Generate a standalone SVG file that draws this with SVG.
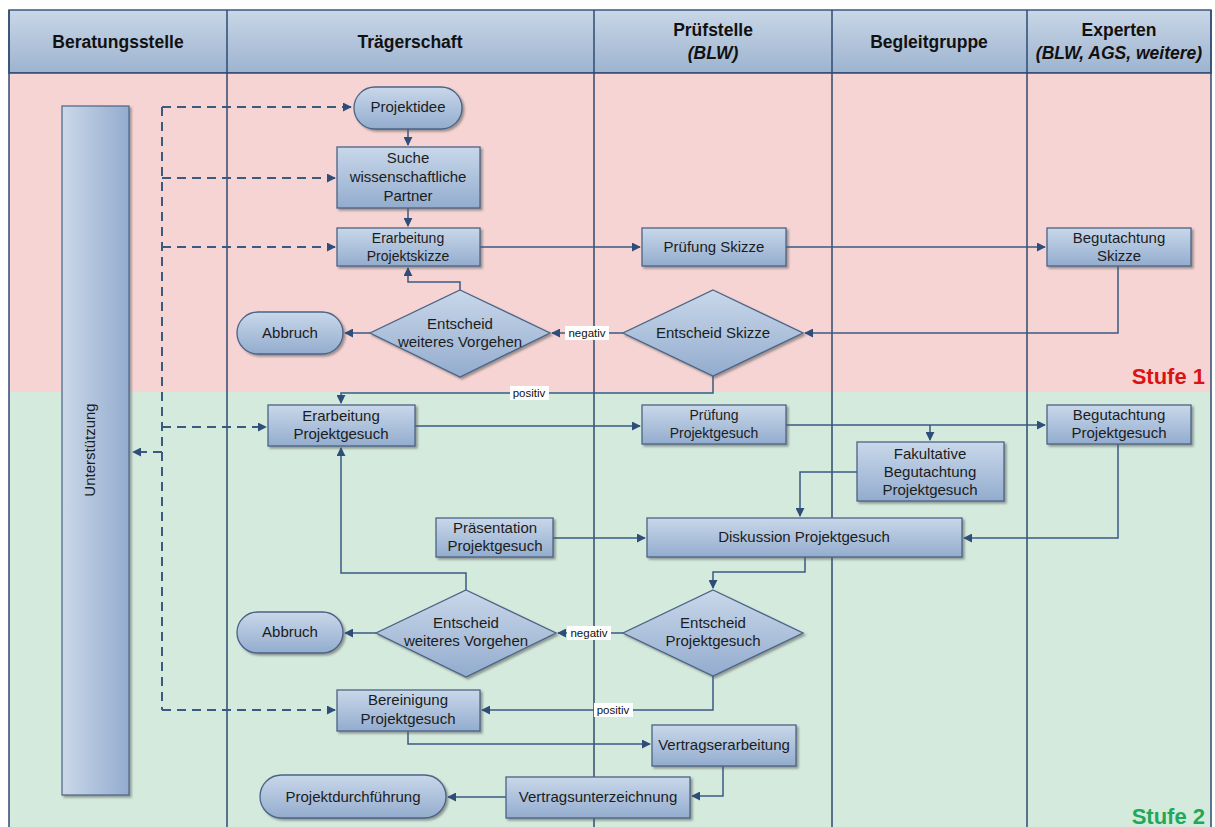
<svg xmlns="http://www.w3.org/2000/svg" width="1215" height="827" viewBox="0 0 1215 827">
<defs>
<linearGradient id="hdr" x1="0" y1="0" x2="0" y2="1"><stop offset="0" stop-color="#c9d7e7"/><stop offset="1" stop-color="#9db3cf"/></linearGradient>
<linearGradient id="box" x1="0" y1="0" x2="0" y2="1"><stop offset="0" stop-color="#c9d8ea"/><stop offset="1" stop-color="#93acce"/></linearGradient>
<linearGradient id="bar" x1="0" y1="0" x2="1" y2="0"><stop offset="0" stop-color="#cbd8e8"/><stop offset="1" stop-color="#93accf"/></linearGradient>
<filter id="sh" x="-10%" y="-10%" width="130%" height="140%"><feDropShadow dx="2" dy="2" stdDeviation="1.2" flood-color="#555" flood-opacity="0.55"/></filter>
<marker id="ar" viewBox="0 0 10 10" refX="9" refY="5" markerWidth="9" markerHeight="9" markerUnits="userSpaceOnUse" orient="auto"><path d="M0,0 L10,5 L0,10 z" fill="#2e4d78"/></marker>
<style>
.n{fill:url(#box);stroke:#4a6486;stroke-width:1.3;filter:url(#sh)}
.t{font-family:"Liberation Sans",Arial,sans-serif;font-size:15px;fill:#1c1c1c;text-anchor:middle}
.ts{font-family:"Liberation Sans",Arial,sans-serif;font-size:14px;fill:#1c1c1c;text-anchor:middle}
.h{font-family:"Liberation Sans",Arial,sans-serif;font-size:17.5px;font-weight:bold;fill:#111;text-anchor:middle}
.c{fill:none;stroke:#3a5a82;stroke-width:1.5}
.d{fill:none;stroke:#3a5a82;stroke-width:2;stroke-dasharray:9,6}
.lane{stroke:#2f4a70;stroke-width:1.5}
.lbl{font-family:"Liberation Sans",Arial,sans-serif;font-size:11.5px;fill:#111;text-anchor:middle}
</style>
</defs>
<rect width="1215" height="827" fill="#ffffff"/>
<g id="lanes">
<rect x="9" y="10" width="1202" height="63" fill="url(#hdr)" stroke="#3c5a80" stroke-width="1.5"/>
<rect x="9" y="73" width="1202" height="319" fill="#f5d4d3"/>
<rect x="9" y="392" width="1202" height="435" fill="#d4eadd"/>
<line class="lane" x1="9" y1="10" x2="9" y2="827"/>
<line class="lane" x1="1211" y1="10" x2="1211" y2="827"/>
<line class="lane" x1="227" y1="10" x2="227" y2="827"/>
<line class="lane" x1="594" y1="10" x2="594" y2="827"/>
<line class="lane" x1="832" y1="10" x2="832" y2="827"/>
<line class="lane" x1="1027" y1="10" x2="1027" y2="827"/>
<line class="lane" x1="9" y1="73" x2="1211" y2="73"/>
<text class="h" x="118" y="48">Beratungsstelle</text>
<text class="h" x="410" y="48">Trägerschaft</text>
<text class="h" x="713" y="36">Prüfstelle</text>
<text class="h" x="713" y="59" font-style="italic">(BLW)</text>
<text class="h" x="929" y="48">Begleitgruppe</text>
<text class="h" x="1119" y="36">Experten</text>
<text class="h" x="1119" y="59" font-style="italic">(BLW, AGS, weitere)</text>
<text x="1205" y="384" font-family="Liberation Sans,Arial,sans-serif" font-size="22" font-weight="bold" fill="#d81414" text-anchor="end">Stufe 1</text>
<text x="1205" y="824" font-family="Liberation Sans,Arial,sans-serif" font-size="22" font-weight="bold" fill="#1fa85a" text-anchor="end">Stufe 2</text>
</g>
<g id="connectors">
<path class="d" d="M162,107 V710"/>
<path class="d" d="M162,107 H351" marker-end="url(#ar)"/>
<path class="d" d="M162,178 H335" marker-end="url(#ar)"/>
<path class="d" d="M162,247 H335" marker-end="url(#ar)"/>
<path class="d" d="M162,427 H266" marker-end="url(#ar)"/>
<path class="d" d="M162,710 H335" marker-end="url(#ar)"/>
<path class="d" d="M162,452 H133" marker-end="url(#ar)"/>
<path class="c" d="M408,129 V145" marker-end="url(#ar)"/>
<path class="c" d="M408,208 V226" marker-end="url(#ar)"/>
<path class="c" d="M480,247 H640" marker-end="url(#ar)"/>
<path class="c" d="M786,247 H1045" marker-end="url(#ar)"/>
<path class="c" d="M1118,266 V333 H805" marker-end="url(#ar)"/>
<path class="c" d="M623,333 H552" marker-end="url(#ar)"/>
<path class="c" d="M370,333 H345" marker-end="url(#ar)"/>
<path class="c" d="M460,290 V282 H408 V268" marker-end="url(#ar)"/>
<path class="c" d="M713,376 V393 H341 V403" marker-end="url(#ar)"/>
<path class="c" d="M415,426 H640" marker-end="url(#ar)"/>
<path class="c" d="M786,425 H1045" marker-end="url(#ar)"/>
<path class="c" d="M930,425 V440" marker-end="url(#ar)"/>
<path class="c" d="M857,472 H800 V516" marker-end="url(#ar)"/>
<path class="c" d="M1118,444 V538 H964" marker-end="url(#ar)"/>
<path class="c" d="M553,538 H645" marker-end="url(#ar)"/>
<path class="c" d="M805,557 V572 H713 V588" marker-end="url(#ar)"/>
<path class="c" d="M623,633 H558" marker-end="url(#ar)"/>
<path class="c" d="M376,633 H345" marker-end="url(#ar)"/>
<path class="c" d="M466,590 V573 H341 V448" marker-end="url(#ar)"/>
<path class="c" d="M713,676 V710 H482" marker-end="url(#ar)"/>
<path class="c" d="M408,731 V744 H650" marker-end="url(#ar)"/>
<path class="c" d="M723,766 V796 H692" marker-end="url(#ar)"/>
<path class="c" d="M506,797 H448" marker-end="url(#ar)"/>
<rect x="565" y="326" width="44" height="14" fill="#fff"/>
<text class="lbl" x="587" y="337">negativ</text>
<rect x="510" y="386" width="39" height="14" fill="#fff"/>
<text class="lbl" x="529" y="397">positiv</text>
<rect x="567" y="626" width="44" height="14" fill="#fff"/>
<text class="lbl" x="589" y="637">negativ</text>
<rect x="594" y="703" width="39" height="14" fill="#fff"/>
<text class="lbl" x="613" y="714">positiv</text>
</g>
<g id="unterstuetzung">
<rect x="62" y="106" width="67" height="689" fill="url(#bar)" stroke="#4a6486" stroke-width="1.2" filter="url(#sh)"/>
<text class="t" transform="translate(95,450) rotate(-90)" font-size="14">Unterstützung</text>
</g>
<g id="projektidee"><rect class="n" x="354" y="87" width="108" height="42" rx="21"/><text class="t" x="408" y="112">Projektidee</text></g>
<g id="suche"><rect class="n" x="337" y="147" width="143" height="61"/><text class="t" x="408" y="163">Suche</text><text class="t" x="408" y="182">wissenschaftliche</text><text class="t" x="408" y="201">Partner</text></g>
<g id="erarbeitung-skizze"><rect class="n" x="337" y="228" width="143" height="38"/><text class="ts" x="408" y="243">Erarbeitung</text><text class="ts" x="408" y="261">Projektskizze</text></g>
<g id="pruefung-skizze"><rect class="n" x="642" y="228" width="144" height="38"/><text class="t" x="714" y="252">Prüfung Skizze</text></g>
<g id="begutachtung-skizze"><rect class="n" x="1047" y="228" width="144" height="38"/><text class="t" x="1119" y="243">Begutachtung</text><text class="t" x="1119" y="261">Skizze</text></g>
<g id="entscheid-skizze"><polygon class="n" points="713,290 803,333 713,376 623,333"/><text class="t" x="713" y="338">Entscheid Skizze</text></g>
<g id="entscheid-vorgehen-1"><polygon class="n" points="460,290 550,333 460,377 370,333"/><text class="t" x="460" y="329">Entscheid</text><text class="t" x="460" y="347">weiteres Vorgehen</text></g>
<g id="abbruch-1"><rect class="n" x="237" y="312" width="106" height="42" rx="21"/><text class="t" x="290" y="338">Abbruch</text></g>
<g id="erarbeitung-gesuch"><rect class="n" x="268" y="405" width="147" height="41"/><text class="t" x="341" y="421">Erarbeitung</text><text class="t" x="341" y="439">Projektgesuch</text></g>
<g id="pruefung-gesuch"><rect class="n" x="642" y="405" width="144" height="39"/><text class="ts" x="714" y="420">Prüfung</text><text class="ts" x="714" y="438">Projektgesuch</text></g>
<g id="begutachtung-gesuch"><rect class="n" x="1047" y="405" width="144" height="39"/><text class="t" x="1119" y="420">Begutachtung</text><text class="t" x="1119" y="438">Projektgesuch</text></g>
<g id="fakultative"><rect class="n" x="857" y="442" width="147" height="59"/><text class="t" x="930" y="459">Fakultative</text><text class="t" x="930" y="477">Begutachtung</text><text class="t" x="930" y="495">Projektgesuch</text></g>
<g id="praesentation"><rect class="n" x="436" y="518" width="117" height="39"/><text class="t" x="495" y="533">Präsentation</text><text class="t" x="495" y="551">Projektgesuch</text></g>
<g id="diskussion"><rect class="n" x="647" y="518" width="315" height="39"/><text class="t" x="804" y="542">Diskussion Projektgesuch</text></g>
<g id="entscheid-gesuch"><polygon class="n" points="713,590 803,633 713,676 623,633"/><text class="t" x="713" y="628">Entscheid</text><text class="t" x="713" y="646">Projektgesuch</text></g>
<g id="entscheid-vorgehen-2"><polygon class="n" points="466,590 556,633 466,677 376,633"/><text class="t" x="466" y="628">Entscheid</text><text class="t" x="466" y="646">weiteres Vorgehen</text></g>
<g id="abbruch-2"><rect class="n" x="237" y="612" width="106" height="41" rx="20.5"/><text class="t" x="290" y="637">Abbruch</text></g>
<g id="bereinigung"><rect class="n" x="337" y="690" width="143" height="41"/><text class="t" x="408" y="705">Bereinigung</text><text class="t" x="408" y="724">Projektgesuch</text></g>
<g id="vertragserarbeitung"><rect class="n" x="652" y="725" width="144" height="41"/><text class="t" x="724" y="750">Vertragserarbeitung</text></g>
<g id="vertragsunterzeichnung"><rect class="n" x="506" y="777" width="184" height="41"/><text class="t" x="598" y="802">Vertragsunterzeichnung</text></g>
<g id="projektdurchfuehrung"><rect class="n" x="260" y="775" width="186" height="43" rx="21.5"/><text class="t" x="353" y="802">Projektdurchführung</text></g>
</svg>
